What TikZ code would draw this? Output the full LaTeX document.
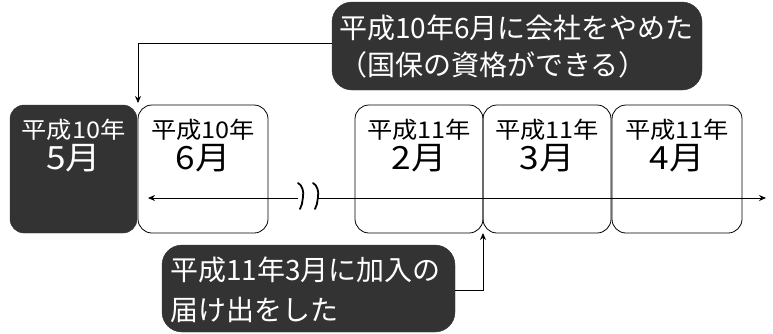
\documentclass[tikz,border=0pt]{standalone}
\usepackage{fontspec}
\setmainfont{Noto Sans CJK JP}
\newfontfamily\jpwide[FakeStretch=1.1]{Noto Sans CJK JP}
\usetikzlibrary{arrows.meta}
\definecolor{darkfill}{gray}{0.2}
\tikzset{
  monthbox/.style={draw=black, line width=0.8pt, rounded corners=14pt, minimum height=128pt, inner sep=0pt},
  darkmonth/.style={fill=darkfill, draw=darkfill, rounded corners=14pt, minimum height=128pt, inner sep=0pt},
  darkbox/.style={fill=darkfill, draw=darkfill, rounded corners=20pt, inner sep=0pt},
  yeartext/.style={font=\jpwide\fontsize{23}{23}\selectfont, inner sep=0pt},
  monthtext/.style={font=\jpwide\fontsize{32}{32}\selectfont, inner sep=0pt},
  notetext/.style={font=\fontsize{28}{28}\selectfont, text=white, inner sep=0pt, anchor=west},
  connector/.style={line width=0.8pt, -{Stealth[length=7pt,width=6pt]}},
  squiggle/.style={line width=1.8pt, line cap=round},
}
\begin{document}
\begin{tikzpicture}[x=1pt,y=-1pt]
\useasboundingbox (0,0) rectangle (773,333);
% month boxes
\node[darkmonth, minimum width=127pt] (m5) at (73.5,169) {};
\node[monthbox, minimum width=130pt] (m6) at (203,169) {};
\node[monthbox, minimum width=128pt] (m2) at (419,169) {};
\node[monthbox, minimum width=128pt] (m3) at (547,169) {};
\node[monthbox, minimum width=130pt] (m4) at (677,169) {};
% texts
\node[yeartext, text=white] (y5) at (73.5,130) {平成10年};
\node[monthtext, text=white] (t5) at (73.5,158) {5月};
\node[yeartext] (y6) at (203,130) {平成10年};
\node[monthtext] (t6) at (203,158) {6月};
\node[yeartext] (y2) at (419,130) {平成11年};
\node[monthtext] (t2) at (419,158) {2月};
\node[yeartext] (y3) at (547,130) {平成11年};
\node[monthtext] (t3) at (547,158) {3月};
\node[yeartext] (y4) at (677,130) {平成11年};
\node[monthtext] (t4) at (677,158) {4月};
% timeline
\coordinate (tlL) at (148,198);
\coordinate (brkL) at (298,198);
\coordinate (brkR) at (318,198);
\coordinate (tlR) at (766,198);
\draw[line width=0.8pt, -{Stealth[length=7pt,width=6pt]}] (brkL) -- (tlL);
\draw[line width=0.8pt, -{Stealth[length=7pt,width=6pt]}] (brkR) -- (tlR);
\draw[squiggle] (298,183) .. controls (302,185) and (304,191) .. (303,197) .. controls (302,203) and (302,206) .. (300,209);
\draw[squiggle] (313,183) .. controls (317,185) and (319,191) .. (318,197) .. controls (317,203) and (317,206) .. (315,209);
% top note
\node[darkbox, minimum width=370pt, minimum height=88pt] (topnote) at (517,46) {};
\node[notetext] (tn1) at (339,28) {平成10年6月に会社をやめた};
\node[notetext] (tn2) at (339,65) {（国保の資格ができる）};
\coordinate (topend) at (138,103);
\draw[connector] (topnote.west |- 0,43) -| (topend);
% bottom note
\node[darkbox, minimum width=293pt, minimum height=87pt] (botnote) at (308.5,288.5) {};
\node[notetext] (bn1) at (170,270) {平成11年3月に加入の};
\node[notetext] (bn2) at (170,310) {届け出をした};
\coordinate (botend) at (483,233);
\draw[connector] (botnote.east |- 0,290) -| (botend);
\end{tikzpicture}
\end{document}
